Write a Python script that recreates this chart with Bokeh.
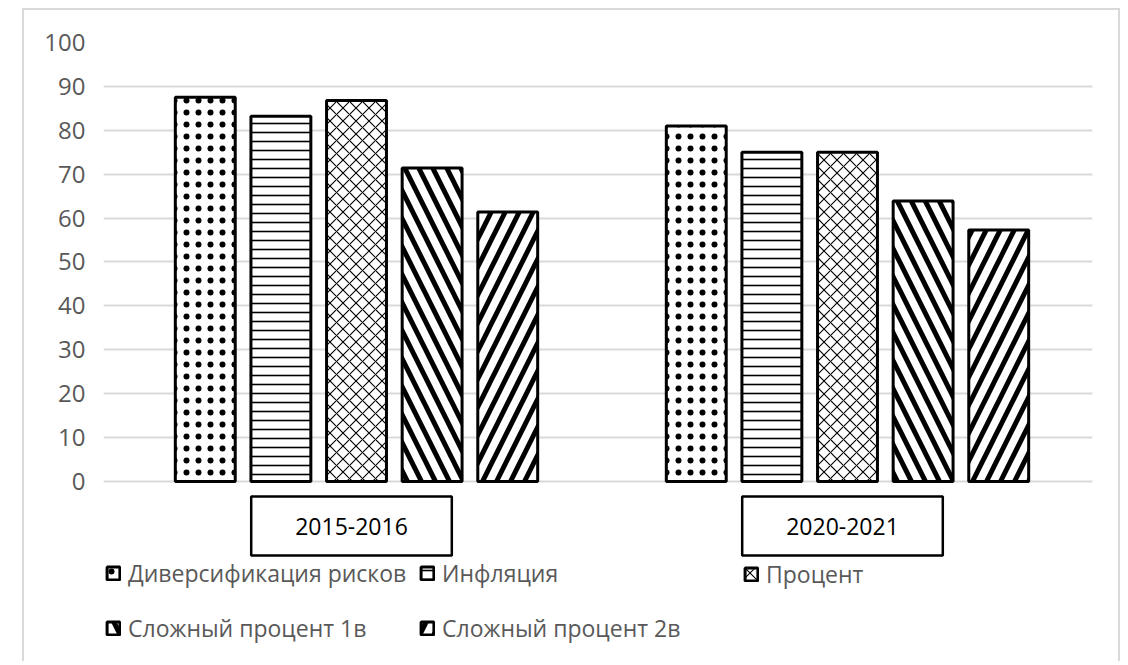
from bokeh.plotting import figure
from bokeh.models import (Range1d, Legend, LegendItem, Label,
                          FixedTicker, ColumnDataSource)
from bokeh.transform import dodge
from bokeh.embed import file_html
from bokeh.resources import INLINE

# ---- data ----
periods = ["2015-2016", "2020-2021"]
series_names = ["Диверсификация рисков", "Инфляция", "Процент",
                "Сложный процент 1в", "Сложный процент 2в"]
diversification = [87.5, 81.0]
inflation = [83.2, 75.0]
percent = [86.8, 75.0]
compound_1v = [71.4, 63.9]
compound_2v = [61.4, 57.3]
y_ticks = [0, 10, 20, 30, 40, 50, 60, 70, 80, 90, 100]

# category slots on a numeric axis: period k is centred at k + 0.5
period_pos = [k + 0.5 for k in range(len(periods))]

src = ColumnDataSource(dict(pos=period_pos, period=periods, s0=diversification,
                            s1=inflation, s2=percent, s3=compound_1v, s4=compound_2v))

FONT = "Open Sans"
GRAY_TXT = "#595959"

W, H = 1098, 653
p = figure(x_range=Range1d(-0.0153, 1.999), y_range=Range1d(-41.46, 100),
           width=W, height=H, output_backend="svg", toolbar_location=None,
           min_border_left=79, min_border_right=30, min_border_top=32,
           min_border_bottom=0,
           styles={"margin-left": "22px", "margin-top": "8px",
                   "border-left": "2px solid #d9d9d9", "border-top": "2px solid #d9d9d9",
                   "border-right": "2px solid #d9d9d9"})
p.outline_line_color = None
p.background_fill_color = "white"
p.border_fill_color = "white"
p.xgrid.visible = False
p.ygrid.grid_line_color = "#d9d9d9"
p.ygrid.grid_line_width = 2
p.xaxis.visible = False

ya = p.yaxis[0]
ya.ticker = FixedTicker(ticks=y_ticks)
ya.axis_line_color = None
ya.major_tick_line_color = None
ya.minor_tick_line_color = None
ya.major_tick_out = 0
ya.major_tick_in = 0
ya.major_label_text_font = FONT
ya.major_label_text_font_size = "24px"
ya.major_label_text_color = GRAY_TXT
ya.major_label_standoff = 18

step = 0.154
bar_w = 0.122
styles = [("dot", 12, 0.2), ("horizontal_line", 9, 1.6), ("diagonal_cross", 13, 1.1),
          ("left_diagonal_line", 28, 5.0), ("right_diagonal_line", 28, 5.0)]
renderers = []
for i, (pat, sc, wt) in enumerate(styles):
    r = p.vbar(x=dodge("pos", (i - 2) * step), top="s%d" % i,
               width=bar_w, source=src, fill_color="white", line_color="black",
               line_width=3, hatch_pattern=pat, hatch_color="black",
               hatch_scale=sc, hatch_weight=wt)
    renderers.append(r)


def make_legend(idx, loc):
    lg = Legend(items=[LegendItem(label=series_names[k], renderers=[renderers[k]]) for k in idx],
                location=loc, orientation="vertical",
                label_text_font=FONT, label_text_font_size="23px",
                label_text_color=GRAY_TXT, glyph_width=16, glyph_height=16,
                label_standoff=7, label_height=31, spacing=23, padding=0, margin=0,
                border_line_color=None, background_fill_alpha=0)
    p.add_layout(lg)


make_legend([0, 3], (2, 19))
make_legend([1, 4], (316, 19))
make_legend([2], (640, 73))

for k, per in enumerate(periods):
    p.add_layout(Label(x=period_pos[k], y=137.5, x_units="data", y_units="screen", x_offset=-5,
                       text=per, text_font=FONT, text_font_size="23px", text_color="black",
                       text_align="center", text_baseline="middle",
                       border_line_color="black", border_line_width=2.5,
                       background_fill_color="white", padding=(44, 44, 21, 21)))

open("out.html", "w").write(file_html(p, INLINE))
